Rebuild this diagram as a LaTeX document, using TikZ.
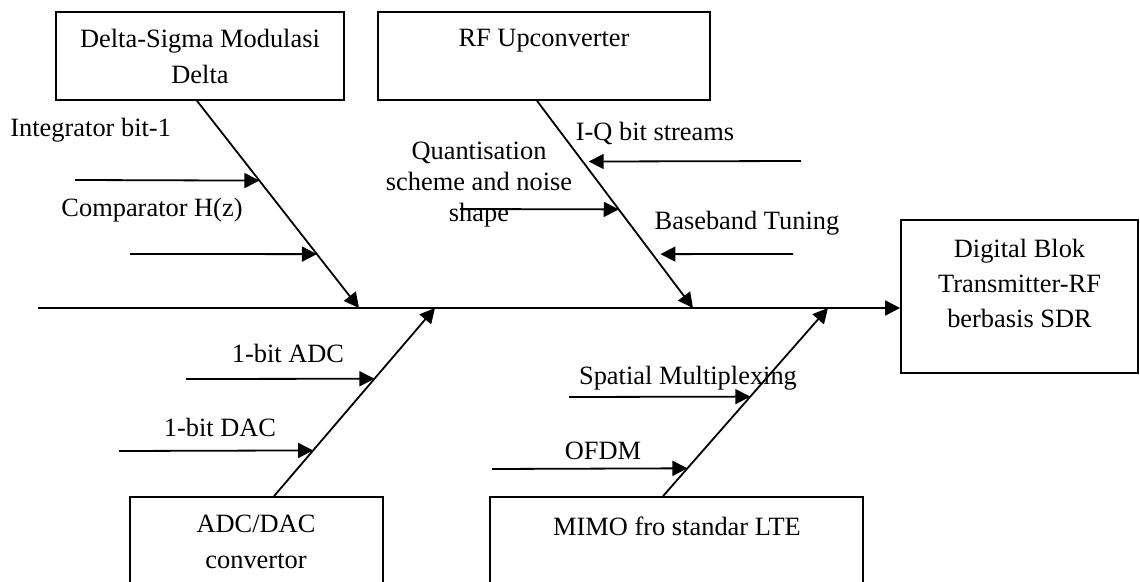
\documentclass[tikz,border=0pt]{standalone}
\usepackage{fontspec}
\setmainfont{Liberation Serif}
\usetikzlibrary{arrows.meta,calc}
\begin{document}
\begin{tikzpicture}[x=0.5pt,y=-0.5pt,
  box/.style={draw,line width=0.85pt,inner sep=0pt,align=center,font=\fontsize{13.2}{17.5}\selectfont},
  lbl/.style={inner sep=0pt,align=center,font=\fontsize{13.2}{17.5}\selectfont},
  arr/.style={line width=0.9pt,-{Triangle[length=7.5pt,width=7.5pt]}}]
\useasboundingbox (0,0) rectangle (1140,582);
\clip (0,0) rectangle (1140,582);
% boxes
\node[box,minimum width=144pt,minimum height=44pt,font=\fontsize{13.2}{18}\selectfont] (b1) at (200,56) {Delta-Sigma Modulasi\\Delta};
\node[box,minimum width=166pt,minimum height=44pt,font=\fontsize{13.2}{18}\selectfont] (b2) at (544,56) {RF Upconverter\\\mbox{}};
\node[box,minimum width=118.5pt,minimum height=76.5pt] (rb) at (1019.5,296.5) {Digital Blok\\Transmitter-RF\\berbasis SDR\\[-4pt]\mbox{}};
\node[box,minimum width=126.5pt,minimum height=71.5pt] (b3) at (256.5,568.5) {};
\node[box,minimum width=186.5pt,minimum height=71.5pt] (b4) at (676.5,568.5) {};
\node[lbl,font=\fontsize{13.2}{18}\selectfont] (b3t) at (256,542) {ADC/DAC\\convertor};
\node[lbl] (b4t) at (677,526) {MIMO fro standar LTE};
% spine
\coordinate (sp) at (38,308);
\draw[arr] (sp) -- (sp -| rb.west);
% bones
\coordinate (s1) at ([xshift=-1.5pt]b1.south);
\coordinate (t1) at (359,308);
\coordinate (s2) at ([xshift=-3.5pt]b2.south);
\coordinate (t2) at (693,308);
\coordinate (s3) at ([xshift=8.75pt]b3.north);
\coordinate (t3) at (435,308);
\coordinate (s4) at ([xshift=-6.75pt]b4.north);
\coordinate (t4) at (828,308);
\draw[arr] (s1) -- (t1);
\draw[arr] (s2) -- (t2);
\draw[arr] (s3) -- (t3);
\draw[arr] (s4) -- (t4);
% branch tails
\coordinate (a1) at (75,180);
\coordinate (a2) at (130,254);
\coordinate (a3) at (801,161);
\coordinate (a4) at (460,209);
\coordinate (a5) at (793,254);
\coordinate (a6) at (186,379);
\coordinate (a7) at (119,451);
\coordinate (a8) at (569,397);
\coordinate (a9) at (492,469);
\draw[arr] (a1) -- ($(s1)!0.385!(t1)$);
\draw[arr] (a2) -- ($(s1)!0.740!(t1)$);
\draw[arr,shorten >=3pt] (a3) -- ($(s2)!0.293!(t2)$);
\draw[arr] (a4) -- ($(s2)!0.524!(t2)$);
\draw[arr,shorten >=4pt] (a5) -- ($(s2)!0.740!(t2)$);
\draw[arr] (a6) -- ($(s3)!0.624!(t3)$);
\draw[arr] (a7) -- ($(s3)!0.243!(t3)$);
\draw[arr] (a8) -- ($(s4)!0.529!(t4)$);
\draw[arr] (a9) -- ($(s4)!0.148!(t4)$);
% labels
\node[lbl,anchor=west] (l1) at (10,130) {Integrator bit-1};
\node[lbl] (l2) at (152,210) {Comparator H(z)};
\node[lbl,font=\fontsize{13.2}{15.5}\selectfont] (l3) at (479,185) {Quantisation\\scheme and noise\\shape};
\node[lbl] (l4) at (655,133) {I-Q bit streams};
\node[lbl] (l5) at (747,223) {Baseband Tuning};
\node[lbl] (l6) at (288,353) {1-bit ADC};
\node[lbl] (l7) at (220,427) {1-bit DAC};
\node[lbl] (l8) at (688,378) {Spatial Multiplexing};
\node[lbl] (l9) at (603,451) {OFDM};
\end{tikzpicture}
\end{document}
